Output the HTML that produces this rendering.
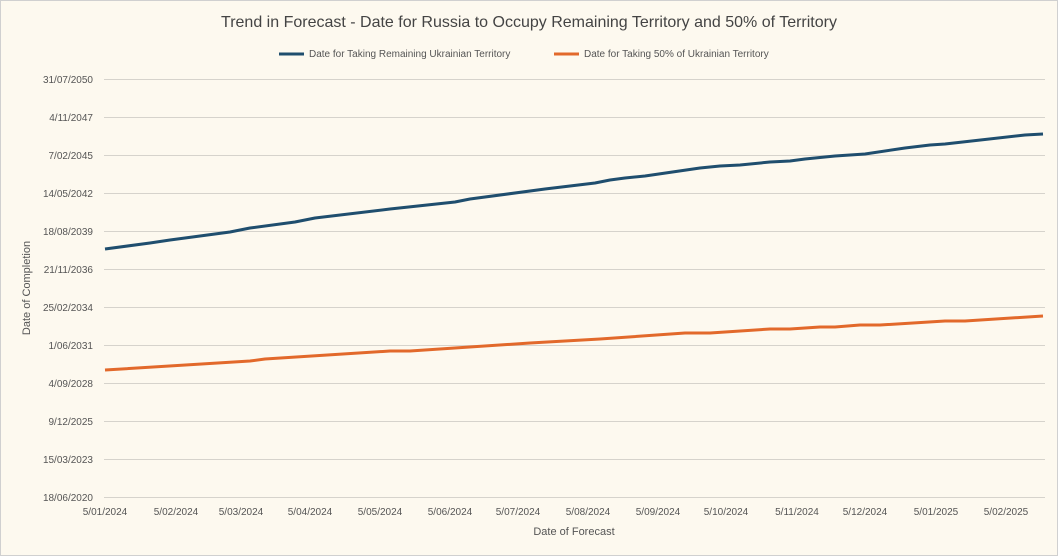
<!DOCTYPE html>
<html><head><style>
body{margin:0;background:#fff;}
svg{display:block;font-family:"Liberation Sans",sans-serif;}
</style></head><body>
<svg width="1058" height="556" viewBox="0 0 1058 556">
<rect x="0.5" y="0.5" width="1057" height="555" fill="#fdf9ef" stroke="#d0d0d0"/>
<text x="529" y="27" font-size="16" fill="#444" text-anchor="middle">Trend in Forecast - Date for Russia to Occupy Remaining Territory and 50% of Territory</text>
<line x1="279" y1="54" x2="304" y2="54" stroke="#1f4e6e" stroke-width="3"/>
<text x="309" y="57" font-size="10" fill="#555">Date for Taking Remaining Ukrainian Territory</text>
<line x1="554" y1="54" x2="579" y2="54" stroke="#e2692b" stroke-width="3"/>
<text x="584" y="57" font-size="10" fill="#555">Date for Taking 50% of Ukrainian Territory</text>
<g stroke="#d6d3cc" stroke-width="1">
<line x1="104" y1="79.5" x2="1045" y2="79.5"/><line x1="104" y1="117.5" x2="1045" y2="117.5"/>
<line x1="104" y1="155.5" x2="1045" y2="155.5"/><line x1="104" y1="193.5" x2="1045" y2="193.5"/>
<line x1="104" y1="231.5" x2="1045" y2="231.5"/><line x1="104" y1="269.5" x2="1045" y2="269.5"/>
<line x1="104" y1="307.5" x2="1045" y2="307.5"/><line x1="104" y1="345.5" x2="1045" y2="345.5"/>
<line x1="104" y1="383.5" x2="1045" y2="383.5"/><line x1="104" y1="421.5" x2="1045" y2="421.5"/>
<line x1="104" y1="459.5" x2="1045" y2="459.5"/><line x1="104" y1="497.5" x2="1045" y2="497.5"/>
</g>
<g font-size="10" fill="#555" text-anchor="end">
<text x="93" y="83">31/07/2050</text><text x="93" y="121">4/11/2047</text>
<text x="93" y="159">7/02/2045</text><text x="93" y="197">14/05/2042</text>
<text x="93" y="235">18/08/2039</text><text x="93" y="273">21/11/2036</text>
<text x="93" y="311">25/02/2034</text><text x="93" y="349">1/06/2031</text>
<text x="93" y="387">4/09/2028</text><text x="93" y="425">9/12/2025</text>
<text x="93" y="463">15/03/2023</text><text x="93" y="501">18/06/2020</text>
</g>
<g font-size="10" fill="#555" text-anchor="middle">
<text x="105" y="515">5/01/2024</text><text x="176" y="515">5/02/2024</text>
<text x="241" y="515">5/03/2024</text><text x="310" y="515">5/04/2024</text>
<text x="380" y="515">5/05/2024</text><text x="450" y="515">5/06/2024</text>
<text x="518" y="515">5/07/2024</text><text x="588" y="515">5/08/2024</text>
<text x="658" y="515">5/09/2024</text><text x="726" y="515">5/10/2024</text>
<text x="797" y="515">5/11/2024</text><text x="865" y="515">5/12/2024</text>
<text x="936" y="515">5/01/2025</text><text x="1006" y="515">5/02/2025</text>
</g>
<text x="574" y="535" font-size="11" fill="#555" text-anchor="middle">Date of Forecast</text>
<text transform="translate(30,288) rotate(-90)" font-size="11" fill="#555" text-anchor="middle">Date of Completion</text>
<polyline fill="none" stroke="#1f4e6e" stroke-width="3" stroke-linejoin="round" points="105,249 150,243 170,240 230,232 250,228 295,222 315,218 390,209 455,202 470,199 545,189 595,183 610,180 625,178 645,176 700,168 720,166 740,165 770,162 790,161 805,159 825,157 835,156 865,154 905,148 930,145 945,144 1025,135 1043,134"/>
<polyline fill="none" stroke="#e2692b" stroke-width="3" stroke-linejoin="round" points="105,370 250,361 265,359 390,351 410,351 530,343 600,339 685,333 710,333 770,329 790,329 820,327 835,327 860,325 880,325 945,321 965,321 1043,316"/>
</svg>
</body></html>
